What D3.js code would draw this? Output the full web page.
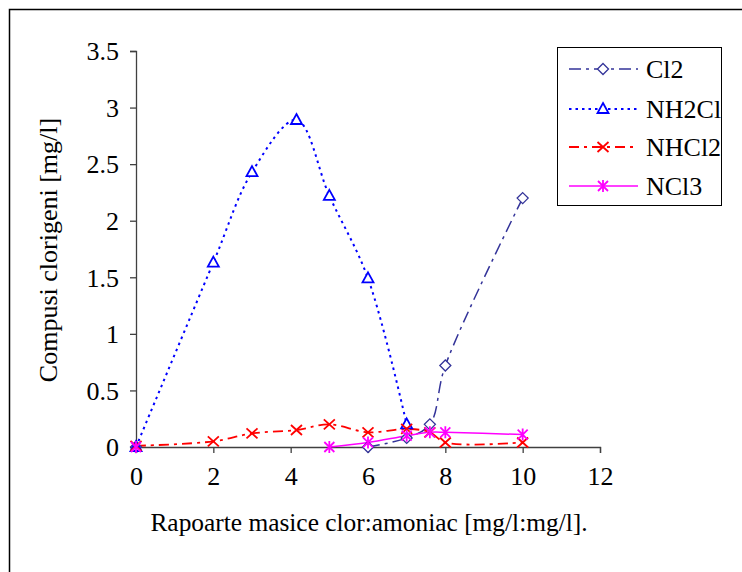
<!DOCTYPE html>
<html><head><meta charset="utf-8">
<script src="https://cdn.jsdelivr.net/npm/d3@7"></script>
<style>body{margin:0;background:#fff}svg{display:block}</style>
</head><body><svg id="c" width="742" height="572"></svg>
<script>
const ratios = [0, 2, 3, 4.15, 5, 6, 7, 7.6, 8, 10];
const cl2   = [0, null, null, null, null, 0, 0.08, 0.2, 0.72, 2.2];
const nh2cl = [0, 1.63, 2.43, 2.89, 2.22, 1.49, 0.2, null, null, null];
const nhcl2 = [0.01, 0.05, 0.12, 0.15, 0.2, 0.13, 0.16, 0.13, 0.04, 0.04];
const ncl3  = [0, null, null, null, 0, 0.04, 0.1, 0.13, 0.13, 0.11];
const seriesNames = ["Cl2", "NH2Cl", "NHCl2", "NCl3"];
const xTicks = [0, 2, 4, 6, 8, 10, 12];
const yTicks = [0, 0.5, 1, 1.5, 2, 2.5, 3, 3.5];
const FONT = "Liberation Serif";

const svg = d3.select("#c");
svg.append("rect").attr("x", 9.5).attr("y", 9.5).attr("width", 760).attr("height", 600)
  .attr("fill", "none").attr("stroke", "#000").attr("stroke-width", 1.5);

const x = d3.scaleLinear().domain([0, 12]).range([136, 600]);
const y = d3.scaleLinear().domain([0, 3.5]).range([447, 51]);

const xa = svg.append("g").attr("transform", "translate(0,447)")
  .call(d3.axisBottom(x).tickValues(xTicks).tickSize(6).tickPadding(14).tickFormat(d3.format("d")));
const ya = svg.append("g").attr("transform", "translate(136,0)")
  .call(d3.axisLeft(y).tickValues(yTicks).tickSize(6).tickPadding(11).tickFormat(d => String(d)));
[xa, ya].forEach(a => {
  a.attr("font-family", null).attr("font-size", null);
  a.selectAll("path,line").attr("stroke", "#404040").attr("stroke-width", 1.3);
  a.selectAll("text").attr("fill", "#000").attr("font-family", FONT).attr("font-size", 26);
});
ya.selectAll("text").attr("dy", "0.34em");

svg.append("text").attr("x", 369).attr("y", 531).attr("text-anchor", "middle").attr("font-size", 25.4)
  .attr("font-family", FONT).text("Rapoarte masice clor:amoniac [mg/l:mg/l].");
svg.append("text").attr("transform", "translate(57,250) rotate(-90)").attr("text-anchor", "middle")
  .attr("font-size", 26).attr("font-family", FONT).text("Compusi clorigeni [mg/l]");

const styles = [
  {vals: cl2, color: "#333399", dash: "12,5,3,5", width: 1.5, marker: "diamond"},
  {vals: nh2cl, color: "#0000ff", dash: "2.5,4", width: 2, marker: "triangle"},
  {vals: nhcl2, color: "#ff0000", dash: "10,5,3,5", width: 1.8, marker: "x"},
  {vals: ncl3, color: "#ff00ff", dash: null, width: 1.5, marker: "star"}
];

function drawMarker(g, type, cx, cy, color) {
  if (type === "diamond") {
    g.append("path").attr("d", `M${cx},${cy-5.5}L${cx+5.5},${cy}L${cx},${cy+5.5}L${cx-5.5},${cy}Z`)
      .attr("fill", "#fff").attr("stroke", color).attr("stroke-width", 1.3);
  } else if (type === "triangle") {
    g.append("path").attr("d", `M${cx},${cy-6}L${cx+5.5},${cy+4}L${cx-5.5},${cy+4}Z`)
      .attr("fill", "#fff").attr("stroke", color).attr("stroke-width", 1.8);
  } else if (type === "x") {
    g.append("path").attr("d", `M${cx-5.5},${cy-5}L${cx+5.5},${cy+5}M${cx-5.5},${cy+5}L${cx+5.5},${cy-5}`)
      .attr("stroke", color).attr("stroke-width", 1.8);
  } else {
    g.append("path").attr("d", `M${cx-5},${cy-5}L${cx+5},${cy+5}M${cx-5},${cy+5}L${cx+5},${cy-5}M${cx},${cy-6}L${cx},${cy+6}`)
      .attr("stroke", color).attr("stroke-width", 1.8);
  }
}

const plot = svg.append("g");
styles.forEach(s => {
  const pts = ratios.map((r, i) => [r, s.vals[i]]);
  const line = d3.line().defined(d => d[1] !== null).x(d => x(d[0])).y(d => y(d[1]))
    .curve(d3.curveCatmullRom.alpha(0.5));
  plot.append("path").attr("d", line(pts)).attr("fill", "none").attr("stroke", s.color)
    .attr("stroke-width", s.width).attr("stroke-dasharray", s.dash);
});
styles.forEach(s => {
  const g = plot.append("g");
  ratios.forEach((r, i) => { if (s.vals[i] !== null) drawMarker(g, s.marker, x(r), y(s.vals[i]), s.color); });
});

// legend
const lg = svg.append("g");
lg.append("rect").attr("x", 557.5).attr("y", 47.5).attr("width", 164).attr("height", 158)
  .attr("fill", "#fff").attr("stroke", "#000").attr("stroke-width", 1);
const ly = [69, 109, 147, 186];
styles.forEach((s, i) => {
  lg.append("line").attr("x1", 569).attr("x2", 638).attr("y1", ly[i]).attr("y2", ly[i])
    .attr("stroke", s.color).attr("stroke-width", s.width).attr("stroke-dasharray", s.dash);
  drawMarker(lg, s.marker, 603, ly[i], s.color);
  lg.append("text").attr("x", 646).attr("y", ly[i]).attr("dy", "0.35em").attr("font-size", 26)
    .attr("font-family", FONT).text(seriesNames[i]);
});
</script></body></html>
